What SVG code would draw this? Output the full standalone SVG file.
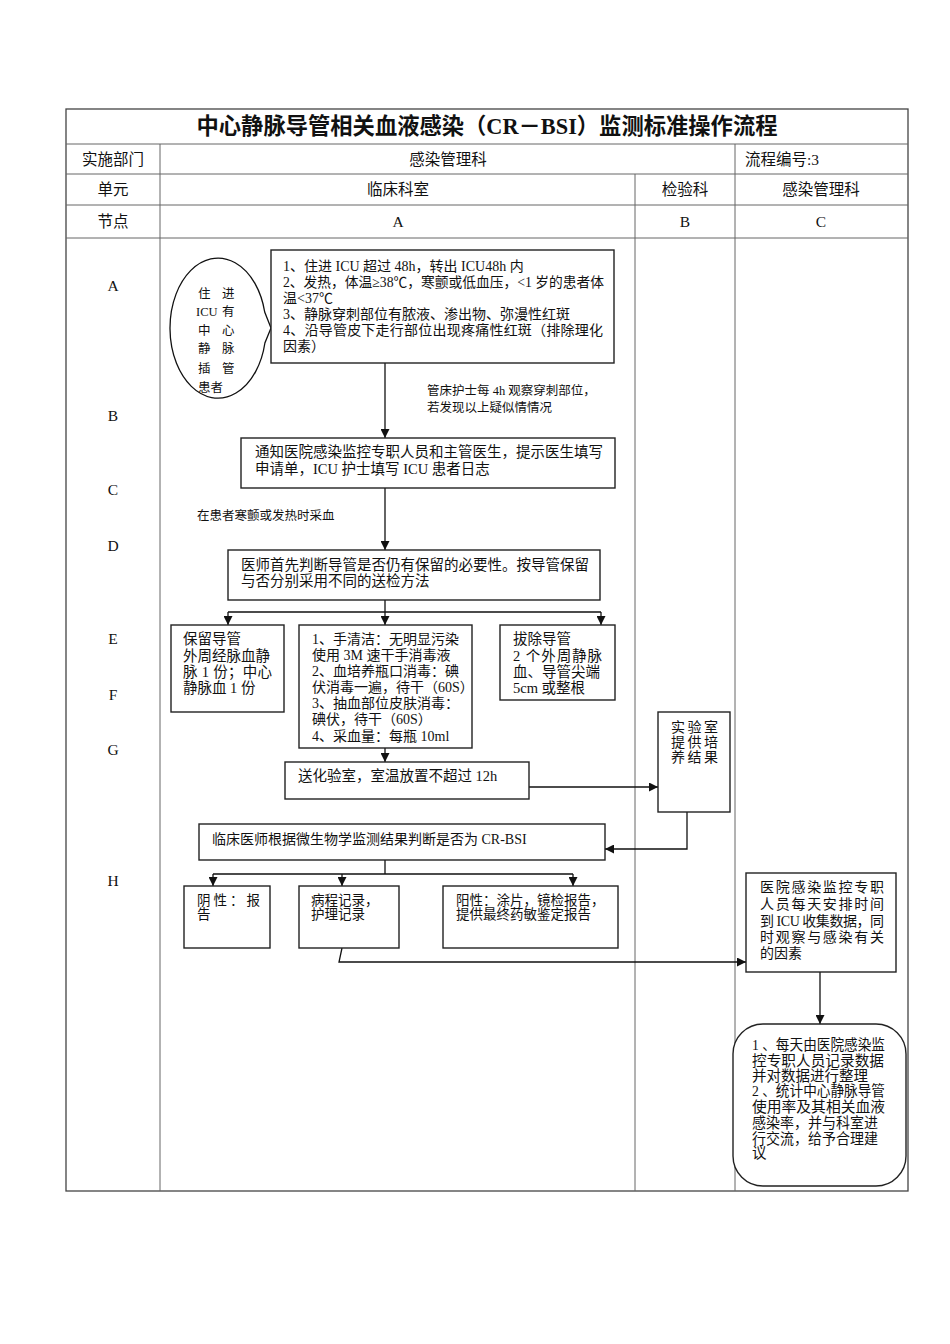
<svg xmlns="http://www.w3.org/2000/svg" width="950" height="1344" viewBox="0 0 950 1344">
<defs>
<style>
.t{font-family:"Liberation Serif","Noto Sans CJK SC",serif;fill:#111}
.h{font-size:15.5px;text-anchor:middle}
.b{font-size:14px}
.bb{font-size:14.5px}
.s{font-size:12.5px}
.box{fill:#fff;stroke:#222;stroke-width:1.4}
.grid{stroke:#666;stroke-width:1;fill:none}
.c{stroke:#111;stroke-width:1.3;fill:none}
.ca{stroke:#111;stroke-width:1.3;fill:none;marker-end:url(#ah)}
</style>
<marker id="ah" markerUnits="userSpaceOnUse" markerWidth="9" markerHeight="9" viewBox="0 0 10 10" refX="10" refY="5" orient="auto">
<path d="M0,0 L10,5 L0,10 z" fill="#111"/>
</marker>
</defs>
<rect width="950" height="1344" fill="#fff"/>
<g id="table">
<rect x="66" y="109" width="842" height="1082" fill="none" stroke="#444" stroke-width="1.3"/>
<path class="grid" d="M66,144 H908 M66,174 H908 M66,205 H908 M66,238 H908 M160,144 V1191 M635,174 V1191 M735,144 V1191"/>
<text class="t" x="487" y="134" font-size="22.3" font-weight="bold" text-anchor="middle">中心静脉导管相关血液感染（CR－BSI）监测标准操作流程</text>
<text class="t h" x="113" y="165">实施部门</text>
<text class="t h" x="448" y="165">感染管理科</text>
<text class="t" x="745" y="165" font-size="15.5">流程编号:3</text>
<text class="t h" x="113" y="195">单元</text>
<text class="t h" x="398" y="195">临床科室</text>
<text class="t h" x="685" y="195">检验科</text>
<text class="t h" x="821" y="195">感染管理科</text>
<text class="t h" x="113" y="227">节点</text>
<text class="t h" x="398" y="227">A</text>
<text class="t h" x="685" y="227">B</text>
<text class="t h" x="821" y="227">C</text>
<text class="t h" x="113" y="291">A</text>
<text class="t h" x="113" y="421">B</text>
<text class="t h" x="113" y="495">C</text>
<text class="t h" x="113" y="551">D</text>
<text class="t h" x="113" y="644">E</text>
<text class="t h" x="113" y="700">F</text>
<text class="t h" x="113" y="755">G</text>
<text class="t h" x="113" y="886">H</text>
</g>
<g id="connectors">
<path class="ca" d="M385,363 V438"/>
<path class="ca" d="M385,488 V550"/>
<path class="c" d="M385,600 V612 M228,612 H601"/>
<path class="ca" d="M228,612 V625"/>
<path class="ca" d="M385,612 V625"/>
<path class="ca" d="M601,612 V625"/>
<path class="ca" d="M385,748 V762"/>
<path class="ca" d="M529,787 H658"/>
<path class="ca" d="M687,812 V849 H605"/>
<path class="c" d="M385,860 V874 M213,874 H573"/>
<path class="ca" d="M213,874 V886"/>
<path class="ca" d="M342,874 V886"/>
<path class="ca" d="M573,874 V886"/>
<path class="ca" d="M342,948 L339,962 H746"/>
<path class="ca" d="M820,972 V1024"/>
</g>
<g id="note1">
<text class="t s" x="427" y="395">管床护士每 4h 观察穿刺部位，</text>
<text class="t s" x="427" y="412">若发现以上疑似情情况</text>
</g>
<g id="note2">
<text class="t s" x="197" y="520">在患者寒颤或发热时采血</text>
</g>
<g id="oval">
<path d="M264.7,312 A48,70 0 1 0 264.9,343 L271,328 Z" fill="#fff" stroke="#111" stroke-width="1.3"/>
<g class="t" font-size="12.5">
<text x="198" y="298">住</text><text x="222" y="298">进</text>
<text x="196" y="316">ICU</text><text x="222" y="316">有</text>
<text x="198" y="335">中</text><text x="222" y="335">心</text>
<text x="198" y="353">静</text><text x="222" y="353">脉</text>
<text x="198" y="373">插</text><text x="222" y="373">管</text>
<text x="198" y="392">患者</text>
</g>
</g>
<g id="boxA">
<rect class="box" x="271" y="250" width="343" height="113"/>
<g class="t b">
<text x="283" y="271">1、住进 ICU 超过 48h，转出 ICU48h 内</text>
<text x="283" y="287" textLength="321" lengthAdjust="spacingAndGlyphs">2、发热，体温≥38℃，寒颤或低血压，&lt;1 岁的患者体</text>
<text x="283" y="303">温&lt;37℃</text>
<text x="283" y="319">3、静脉穿刺部位有脓液、渗出物、弥漫性红斑</text>
<text x="283" y="335" textLength="320" lengthAdjust="spacing">4、沿导管皮下走行部位出现疼痛性红斑（排除理化</text>
<text x="283" y="351">因素）</text>
</g>
</g>
<g id="boxB">
<rect class="box" x="241" y="438" width="374" height="50"/>
<g class="t bb">
<text x="255" y="457">通知医院感染监控专职人员和主管医生，提示医生填写</text>
<text x="255" y="474">申请单，ICU 护士填写 ICU 患者日志</text>
</g>
</g>
<g id="boxD">
<rect class="box" x="228" y="550" width="372" height="50"/>
<g class="t bb">
<text x="241" y="570">医师首先判断导管是否仍有保留的必要性。按导管保留</text>
<text x="241" y="586">与否分别采用不同的送检方法</text>
</g>
</g>
<g id="boxE1">
<rect class="box" x="171" y="625" width="113" height="87"/>
<g class="t bb">
<text x="183" y="644">保留导管</text>
<text x="183" y="661">外周经脉血静</text>
<text x="183" y="677" textLength="89" lengthAdjust="spacing">脉 1 份；中心</text>
<text x="183" y="693">静脉血 1 份</text>
</g>
</g>
<g id="boxE2">
<rect class="box" x="299" y="625" width="173" height="123"/>
<g class="t b">
<text x="312" y="644">1、手清洁：无明显污染</text>
<text x="312" y="660">使用 3M 速干手消毒液</text>
<text x="312" y="676">2、血培养瓶口消毒：碘</text>
<text x="312" y="692">伏消毒一遍，待干（60S）</text>
<text x="312" y="708">3、抽血部位皮肤消毒：</text>
<text x="312" y="724">碘伏，待干（60S）</text>
<text x="312" y="741">4、采血量：每瓶 10ml</text>
</g>
</g>
<g id="boxE3">
<rect class="box" x="500" y="625" width="115" height="75"/>
<g class="t bb">
<text x="513" y="644">拔除导管</text>
<text x="513" y="661" textLength="89" lengthAdjust="spacing">2 个外周静脉</text>
<text x="513" y="677">血、导管尖端</text>
<text x="513" y="693">5cm 或整根</text>
</g>
</g>
<g id="boxG">
<rect class="box" x="285" y="762" width="244" height="37"/>
<text class="t bb" x="298" y="781">送化验室，室温放置不超过 12h</text>
</g>
<g id="boxLab">
<rect class="box" x="658" y="712" width="72" height="100"/>
<g class="t" font-size="14" letter-spacing="2.5">
<text x="671" y="732">实验室</text>
<text x="671" y="747">提供培</text>
<text x="671" y="762">养结果</text>
</g>
</g>
<g id="boxH">
<rect class="box" x="199" y="824" width="406" height="36"/>
<text class="t b" x="212" y="844">临床医师根据微生物学监测结果判断是否为 CR-BSI</text>
</g>
<g id="boxNeg">
<rect class="box" x="184" y="886" width="86" height="62"/>
<g class="t" font-size="13.5">
<text x="197" y="905" letter-spacing="3">阴性：报</text>
<text x="197" y="919">告</text>
</g>
</g>
<g id="boxRec">
<rect class="box" x="299" y="886" width="100" height="62"/>
<g class="t" font-size="13.5">
<text x="311" y="905">病程记录，</text>
<text x="311" y="919">护理记录</text>
</g>
</g>
<g id="boxPos">
<rect class="box" x="443" y="886" width="175" height="62"/>
<g class="t" font-size="13.5">
<text x="456" y="905">阳性：涂片，镜检报告，</text>
<text x="456" y="919">提供最终药敏鉴定报告</text>
</g>
</g>
<g id="boxC1">
<rect class="box" x="746" y="873" width="150" height="99"/>
<g class="t" font-size="14">
<text x="760" y="892" textLength="124" lengthAdjust="spacing">医院感染监控专职</text>
<text x="760" y="909" textLength="124" lengthAdjust="spacing">人员每天安排时间</text>
<text x="760" y="926" textLength="124" lengthAdjust="spacing">到 ICU 收集数据，同</text>
<text x="760" y="942" textLength="124" lengthAdjust="spacing">时观察与感染有关</text>
<text x="760" y="958">的因素</text>
</g>
</g>
<g id="boxC2">
<rect class="box" x="733" y="1024" width="173" height="162" rx="30" ry="30"/>
<g class="t" font-size="14.5">
<text x="752" y="1050" textLength="133" lengthAdjust="spacingAndGlyphs">1 、每天由医院感染监</text>
<text x="752" y="1066" textLength="132" lengthAdjust="spacingAndGlyphs">控专职人员记录数据</text>
<text x="752" y="1081" textLength="116" lengthAdjust="spacingAndGlyphs">并对数据进行整理</text>
<text x="752" y="1096" textLength="133" lengthAdjust="spacingAndGlyphs">2 、统计中心静脉导管</text>
<text x="752" y="1112" textLength="133" lengthAdjust="spacingAndGlyphs">使用率及其相关血液</text>
<text x="752" y="1128" textLength="126" lengthAdjust="spacingAndGlyphs">感染率，并与科室进</text>
<text x="752" y="1144" textLength="126" lengthAdjust="spacingAndGlyphs">行交流，给予合理建</text>
<text x="752" y="1158">议</text>
</g>
</g>
</svg>
